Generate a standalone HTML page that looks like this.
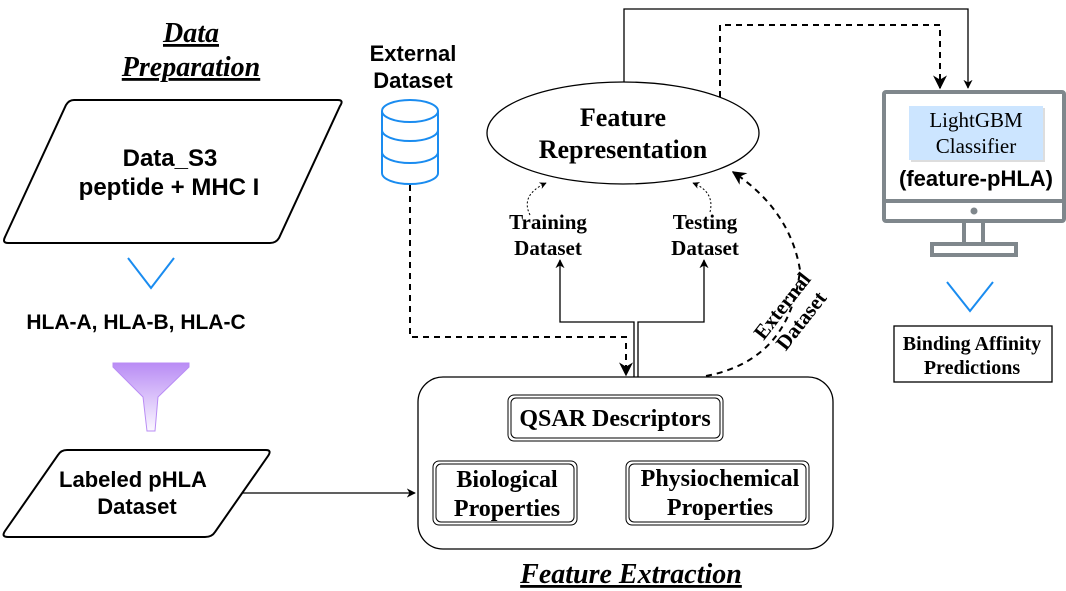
<!DOCTYPE html>
<html><head><meta charset="utf-8"><style>body{margin:0;background:#fff}svg{display:block}</style></head><body>
<svg width="1066" height="591" viewBox="0 0 1066 591" xmlns="http://www.w3.org/2000/svg">
<defs>
<linearGradient id="fg" x1="0" y1="0" x2="0" y2="1"><stop offset="0" stop-color="#b98cf5"/><stop offset="1" stop-color="#fbf8ff"/></linearGradient>
<marker id="ar" viewBox="0 0 10 10" refX="9" refY="5" markerWidth="7" markerHeight="7" orient="auto-start-reverse"><path d="M0,0 L10,5 L0,10 L3,5z" fill="#000"/></marker>
</defs>
<g font-family="Liberation Sans, sans-serif" font-weight="bold" text-anchor="middle">
<text x="191" y="42" font-family="Liberation Serif, serif" font-style="italic" font-size="28" text-decoration="underline">Data</text>
<text x="191" y="76" font-family="Liberation Serif, serif" font-style="italic" font-size="28" text-decoration="underline">Preparation</text>
<path d="M74,100 L338,100 Q344,100 340,106 L279,238 Q276,243 270,243 L8,243 Q2,243 5,237 L66,105 Q69,100 74,100Z" fill="#fff" stroke="#000" stroke-width="2"/>
<text x="170" y="166" font-size="24">Data_S3</text>
<text x="169" y="195" font-size="24">peptide + MHC I</text>
<path d="M128,258 L151,288 L174,258" fill="none" stroke="#1a8cf0" stroke-width="2"/>
<text x="136" y="329" font-size="21">HLA-A, HLA-B, HLA-C</text>
<path d="M113,363 L189,363 L189,367 L158,397 L155,431 L147,431 L143,397 L113,367Z" fill="url(#fg)" stroke="#b98cf5"/>
<path d="M67,450 L266,450 Q272,450 268,456 L215,532 Q212,537 205,537 L8,537 Q1,537 5,531 L58,455 Q61,450 67,450Z" fill="#fff" stroke="#000" stroke-width="2"/>
<text x="133" y="487" font-size="22">Labeled pHLA</text>
<text x="137" y="514" font-size="22">Dataset</text>
<line x1="242" y1="493" x2="415" y2="493" stroke="#000" stroke-width="1.3" marker-end="url(#ar)"/>
<rect x="418" y="377" width="415" height="172" rx="25" fill="#fff" stroke="#000" stroke-width="1.3"/>
<g font-family="Liberation Serif, serif" font-size="24">
<rect x="508" y="395" width="215" height="46" rx="6" fill="none" stroke="#000"/><rect x="511" y="398" width="209" height="40" rx="5" fill="none" stroke="#000"/>
<text x="615" y="426">QSAR Descriptors</text>
<rect x="433" y="461" width="144" height="64" rx="6" fill="none" stroke="#000"/><rect x="436" y="464" width="138" height="58" rx="5" fill="none" stroke="#000"/>
<text x="507" y="487">Biological</text><text x="507" y="516">Properties</text>
<rect x="626" y="461" width="183" height="64" rx="6" fill="none" stroke="#000"/><rect x="629" y="464" width="177" height="58" rx="5" fill="none" stroke="#000"/>
<text x="720" y="486">Physiochemical</text><text x="720" y="515">Properties</text>
</g>
<text x="631" y="583" font-family="Liberation Serif, serif" font-style="italic" font-size="28" text-decoration="underline">Feature Extraction</text>
<text x="413" y="61" font-size="22">External</text>
<text x="413" y="88" font-size="22">Dataset</text>
<g fill="none" stroke="#1a8cf0" stroke-width="2">
<path d="M382,111 L382,173 A28,11 0 0 0 438,173 L438,111"/>
<ellipse cx="410" cy="111" rx="28" ry="11"/>
<path d="M382,130 A28,11 0 0 0 438,130 M382,152 A28,11 0 0 0 438,152"/>
</g>
<path d="M410,185 L410,337 L626,337 L626,375" fill="none" stroke="#000" stroke-width="2" stroke-dasharray="6,5" marker-end="url(#ar)"/>
<path d="M634,377 L634,322 L560,322 L560,260" fill="none" stroke="#000" stroke-width="1.3" marker-end="url(#ar)"/>
<path d="M638,377 L638,322 L704,322 L704,260" fill="none" stroke="#000" stroke-width="1.3" marker-end="url(#ar)"/>
<ellipse cx="623" cy="133" rx="136" ry="51" fill="#fff" stroke="#000" stroke-width="1.3"/>
<text x="623" y="126" font-family="Liberation Serif, serif" font-size="26">Feature</text>
<text x="623" y="158" font-family="Liberation Serif, serif" font-size="26">Representation</text>
<g font-family="Liberation Serif, serif" font-size="21">
<text x="548" y="229">Training</text><text x="548" y="255">Dataset</text>
<text x="705" y="229">Testing</text><text x="705" y="255">Dataset</text>
</g>
<path d="M530,215 Q520,195 546,183" fill="none" stroke="#000" stroke-dasharray="2,2" marker-end="url(#ar)"/>
<path d="M710,212 Q715,192 693,183" fill="none" stroke="#000" stroke-dasharray="2,2" marker-end="url(#ar)"/>
<path d="M706,376 Q790,360 800,270 Q790,210 733,172" fill="none" stroke="#000" stroke-width="2" stroke-dasharray="6,5" marker-end="url(#ar)"/>
<g transform="translate(790,312) rotate(-52)" font-family="Liberation Serif, serif" font-size="21">
<text x="0" y="-3">External</text><text x="0" y="21">Dataset</text>
</g>
<path d="M624,82 L624,9 L968,9 L968,88" fill="none" stroke="#000" stroke-width="1.3" marker-end="url(#ar)"/>
<path d="M720,97 L720,25 L940,25 L940,88" fill="none" stroke="#000" stroke-width="2" stroke-dasharray="6,5" marker-end="url(#ar)"/>
<g fill="none" stroke="#7f878c" stroke-width="4">
<rect x="884" y="92" width="180" height="129" rx="2"/>
<line x1="884" y1="201" x2="1064" y2="201"/>
<path d="M964,221 L964,243 M983,221 L983,243"/>
<rect x="932" y="244" width="84" height="11"/>
</g>
<circle cx="974" cy="211" r="3.5" fill="#7f878c"/>
<rect x="911" y="108" width="134" height="54" fill="#ddd"/>
<rect x="909" y="106" width="134" height="54" fill="#cce5ff"/>
<text x="976" y="127" font-family="Liberation Serif, serif" font-weight="normal" font-size="21">LightGBM</text>
<text x="976" y="153" font-family="Liberation Serif, serif" font-weight="normal" font-size="21">Classifier</text>
<text x="976" y="186" font-size="22">(feature-pHLA)</text>
<path d="M947,282 L970,311 L993,282" fill="none" stroke="#1a8cf0" stroke-width="2"/>
<rect x="894" y="326" width="158" height="56" fill="#fff" stroke="#000" stroke-width="1.3"/>
<text x="972" y="350" font-family="Liberation Serif, serif" font-size="20">Binding Affinity</text>
<text x="972" y="374" font-family="Liberation Serif, serif" font-size="20">Predictions</text>
</g>
</svg>
</body></html>
